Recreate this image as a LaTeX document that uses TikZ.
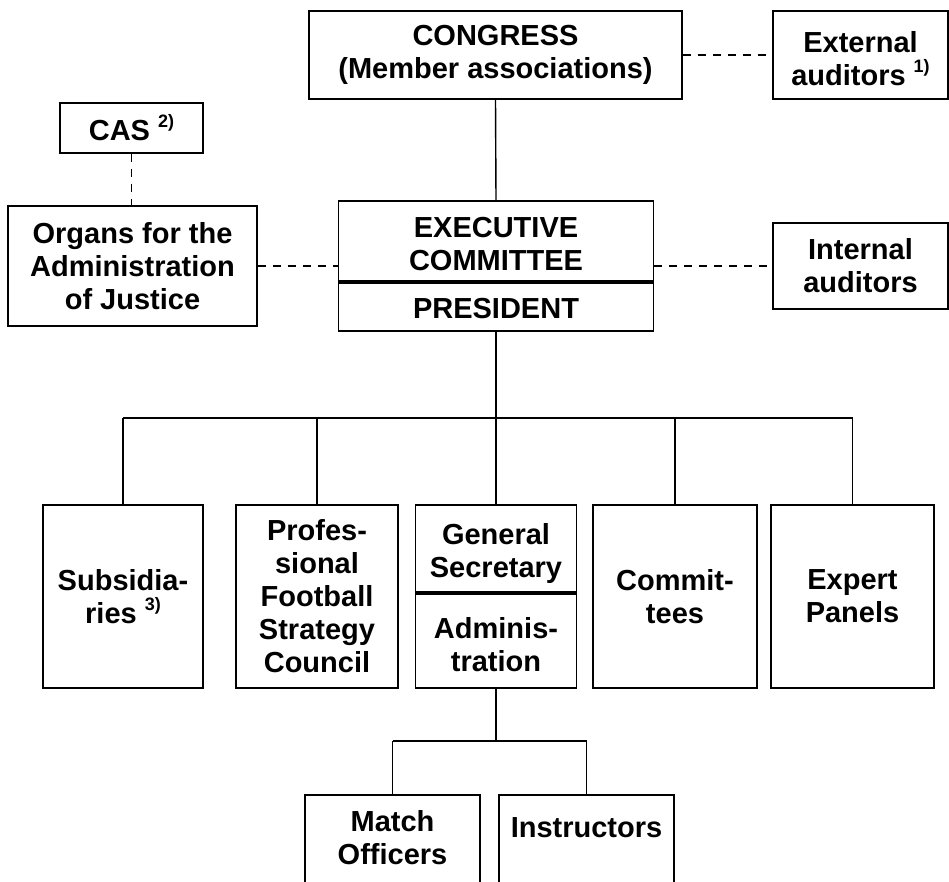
\documentclass[tikz,border=0pt]{standalone}
\usepackage{fontspec}
\setmainfont{Liberation Sans}
\newcommand{\myfn}[1]{\raisebox{0.45em}{\fontsize{18}{18}\selectfont #1}}
\tikzset{
  box/.style={draw, line width=1.5pt, inner sep=0pt, align=center,
    font=\bfseries\fontsize{29}{33}\selectfont},
  txt/.style={inner sep=0pt, align=center, font=\bfseries\fontsize{29}{33}\selectfont},
  conn/.style={line width=1.4pt},
  dconn/.style={line width=1.3pt, dash pattern=on 8pt off 7pt},
  divider/.style={line width=3.5pt},
}
\begin{document}
\begin{tikzpicture}[x=1pt, y=-1pt]
\useasboundingbox (0,0) rectangle (949,881);
\clip (0,0) rectangle (949,881);
% top row
\node[box, minimum width=373, minimum height=88] (congress) at (495.5,55) {CONGRESS\\(Member associations)};
\node[box, minimum width=175, minimum height=88] (ext) at (860.5,55) {};
\node[txt] (exttxt) at (860.5,59) {External\\auditors \myfn{1)}};
% CAS and organs
\node[box, minimum width=143, minimum height=50] (cas) at (131.5,128) {CAS \myfn{2)}};
\node[box, minimum width=249, minimum height=120] (organs) at (132.5,266) {Organs for the\\Administration\\of Justice};
% executive committee / president
\node[box, minimum width=315, minimum height=130] (exec) at (496,266) {};
\node[txt] (exectxt) at (496,244) {EXECUTIVE\\COMMITTEE};
\node[txt] (pres) at (496,309) {PRESIDENT};
\draw[divider] (exec.west |- 0,282) -- (exec.east |- 0,282);
\node[box, minimum width=175, minimum height=86] (int) at (860.5,266) {Internal\\auditors};
% dashed links
\draw[dconn] (congress.east) -- (ext.west);
\draw[dconn] (cas.south) -- (cas.south |- organs.north);
\draw[dconn] (organs.east) -- (exec.west);
\draw[dconn] (exec.east) -- (int.west);
% solid links
\draw[conn] (congress.south) -- (exec.north);
% second row
\node[box, minimum width=160, minimum height=183] (sub) at (123,596.5) {Subsidia-\\ries \myfn{3)}};
\node[box, minimum width=162, minimum height=183] (prof) at (317,596.5) {Profes-\\sional\\Football\\Strategy\\Council};
\node[box, minimum width=161, minimum height=183] (gs) at (496,596.5) {};
\node[txt] (gstxt) at (496,553) {General\\Secretary};
\node[txt] (admtxt) at (496,645) {Adminis-\\tration};
\draw[divider] (gs.west |- 0,593) -- (gs.east |- 0,593);
\node[box, minimum width=164, minimum height=183] (comm) at (675,596.5) {Commit-\\tees};
\node[box, minimum width=163, minimum height=183] (expert) at (852.5,596.5) {Expert\\Panels};
\coordinate (bus) at (496,418);
\draw[conn] (exec.south) -- (bus);
\draw[conn] (sub.north |- bus) -- (expert.north |- bus);
\foreach \n in {sub,prof,gs,comm,expert} \draw[conn] (\n.north) -- (\n.north |- bus);
% third row (cut off by the lower edge)
\node[box, minimum width=175, minimum height=200, anchor=north] (mo) at (392.5,794) {};
\node[txt] (motxt) at (392.5,838) {Match\\Officers};
\node[box, minimum width=175, minimum height=200, anchor=north] (ins) at (586.5,794) {};
\node[txt] (instxt) at (586.5,828) {Instructors};
\coordinate (sbus) at (496,741);
\draw[conn] (gs.south) -- (sbus);
\draw[conn] (mo.north |- sbus) -- (ins.north |- sbus);
\draw[conn] (mo.north) -- (mo.north |- sbus);
\draw[conn] (ins.north) -- (ins.north |- sbus);
\end{tikzpicture}
\end{document}
